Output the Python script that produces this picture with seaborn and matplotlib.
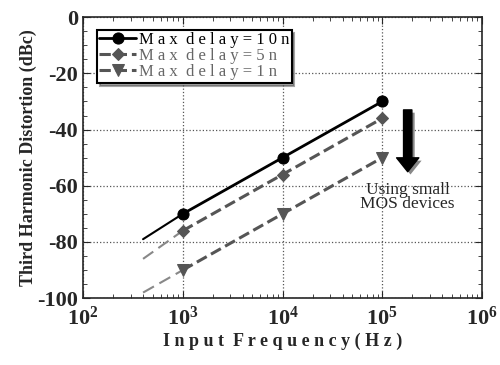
import numpy as np
import matplotlib
matplotlib.use("Agg")
import matplotlib.pyplot as plt
import matplotlib.patheffects as pe
import seaborn as sns
import pandas as pd

# data
freq = [1e3, 1e4, 1e5]
thd_10n = [-70, -50, -30]
thd_5n = [-76, -56, -36]
thd_1n = [-90, -70, -50]
# lines extend back to ~400 Hz
ext_freq = 400
ext_vals = [-79, -86, -98]
labels = ["M a x  d e l a y = 1 0 n", "M a x  d e l a y = 5 n", "M a x  d e l a y = 1 n"]

sns.set_style("ticks")
plt.rcParams["font.family"] = ["Liberation Serif", "DejaVu Serif"]

fig, ax = plt.subplots(figsize=(5, 3.65), dpi=100)
fig.subplots_adjust(left=0.166, right=0.964, top=0.953, bottom=0.183)

series = [thd_10n, thd_5n, thd_1n]
colors = ["black", "#555555", "#555555"]
ext_colors = ["black", "#888888", "#888888"]
markers = ["o", "D", "v"]
msizes = [8, 6, 8]
styles = ["-", "--", "--"]

for vals, lab, c, ec, m, ms, ls, ev in zip(series, labels, colors, ext_colors,
                                           markers, msizes, styles, ext_vals):
    df = pd.DataFrame({"f": freq, "thd": vals})
    # extension towards low frequency
    ax.plot([ext_freq, freq[0]], [ev, vals[0]], color=ec, lw=1.5, ls=ls,
            dashes=(6, 3) if ls == "--" else (None, None), zorder=2)
    sns.lineplot(data=df, x="f", y="thd", ax=ax, color=c, marker=m,
                 markersize=ms, markeredgecolor=c, lw=2 if ls == "-" else 2.2,
                 linestyle=ls, label=lab, zorder=3)

ax.set_xscale("log")
ax.set_xlim(1e2, 1e6)
ax.set_ylim(-100, 0)
ax.set_yticks(np.arange(-100, 1, 20))
ax.set_yticklabels(["-100", "-80", "-60", "-40", "-20", "0"])
ax.set_yticks(np.arange(-100, 0, 5), minor=True)
ax.grid(True, which="major", ls=":", color="#555555", lw=0.9)
ax.tick_params(which="both", direction="in", top=True, right=True)
ax.tick_params(which="major", length=5, labelsize=16)
ax.tick_params(axis="x", which="major", pad=6)
ax.tick_params(which="minor", length=3)
for t in ax.get_xticklabels() + ax.get_yticklabels():
    t.set_fontweight("bold")
for s in ax.spines.values():
    s.set_linewidth(1.2)

ax.set_xlabel("I n p u t  F r e q u e n c y ( H z )", fontsize=13,
              fontweight="bold", labelpad=2)
ax.set_ylabel("Third Harmonic Distortion (dBc)", fontsize=13,
              fontweight="bold", labelpad=0)

leg = ax.legend(loc="upper left", fontsize=12, frameon=True, fancybox=False,
                shadow=True, handlelength=2.2, borderpad=0.15,
                labelspacing=0.0, handletextpad=0.15, borderaxespad=0,
                bbox_to_anchor=(0.035, 0.955))
leg.get_frame().set_edgecolor("black")
leg.get_frame().set_linewidth(1.5)
for txt, c in zip(leg.get_texts(), ["black", "#666666", "#666666"]):
    txt.set_color(c)

ax.annotate("", xy=(1.8e5, -55), xytext=(1.8e5, -33),
            arrowprops=dict(facecolor="black", edgecolor="black", width=6,
                            headwidth=16, headlength=10,
                            path_effects=[pe.SimplePatchShadow(offset=(2, -2),
                                                               shadow_rgbFace="#888888",
                                                               alpha=1),
                                          pe.Normal()]))
ax.text(1.8e5, -64, "Using small\nMOS devices", ha="center", va="center",
        fontsize=12.5, linespacing=0.9)

fig.savefig("out.png", dpi=100)
